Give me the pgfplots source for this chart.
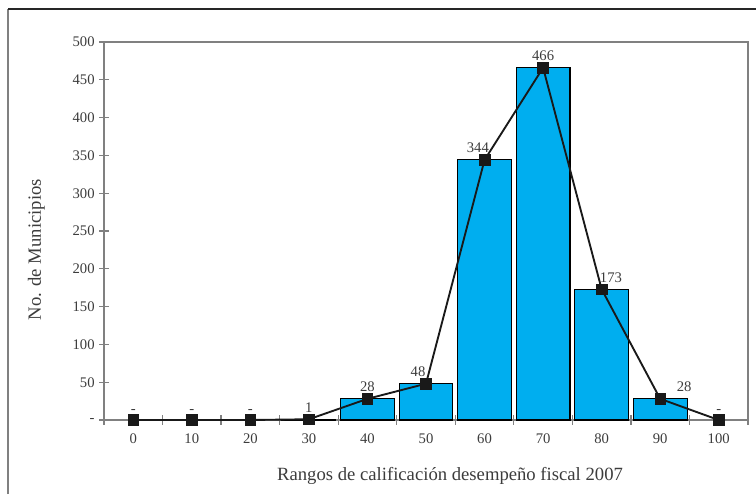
\documentclass[border=0pt]{standalone}
\usepackage{pgfplots}
\usepackage{pgfplotstable}
\pgfplotsset{compat=1.18}
\usepackage{fontspec}
\setmainfont{Liberation Serif}
\definecolor{barblue}{RGB}{0,174,239}
\definecolor{axgray}{RGB}{128,128,128}
\definecolor{txt}{RGB}{60,60,60}

\pgfplotstableread{
x y lab dx
0 0 - 0
1 0 - 0
2 0 - 0
3 1 1 0
4 28 28 0
5 48 48 -6
6 344 344 -5
7 466 466 0
8 173 173 7
9 28 28 18
10 0 - 0
}\linedata

\pgfplotstableread{
x y
3 1
4 28
5 48
6 344
7 466
8 173
9 28
}\bardata

\begin{document}
\begin{tikzpicture}
\useasboundingbox (0,0) rectangle (567pt,370.5pt);
\draw[line width=0.9pt, axgray] (6pt,0) -- (6pt,363.75pt);
\draw[line width=1pt, black!85] (6pt,363.75pt) -- (567pt,363.75pt);
\begin{axis}[
  at={(78pt,55.5pt)}, anchor=south west,
  scale only axis, width=483pt, height=283.5pt,
  xmin=-0.5, xmax=10.5, ymin=0, ymax=500,
  axis line style={axgray, line width=0.9pt},
  every tick/.style={axgray, line width=0.9pt},
  xtick pos=bottom, ytick pos=left,
  tick align=center, major tick length=7pt,
  xtick={0,...,10},
  xticklabels={0,10,20,30,40,50,60,70,80,90,100},
  minor xtick={-0.5,0.5,...,10.5},
  major x tick style={draw=none},
  minor tick length=7pt,
  ytick={0,50,...,500},
  yticklabels={-,50,100,150,200,250,300,350,400,450,500},
  ticklabel style={font=\fontsize{11}{13}\selectfont, text=txt},
  xticklabel style={yshift=-3pt},
  xlabel={Rangos de calificación desempeño fiscal 2007},
  ylabel={No. de Municipios},
  label style={font=\fontsize{14}{16}\selectfont, text=txt},
  xlabel style={yshift=-11pt, xshift=18pt},
  ylabel style={yshift=14pt, xshift=-14pt},
  clip=false,
]
\addplot[ybar, bar width=0.92, bar shift=0pt, fill=barblue, draw=black, line width=0.8pt] table[x=x,y=y] {\bardata};
\addplot[black!90, line width=1.4pt, mark=square*, mark size=4pt,
  mark options={fill=black!90, draw=black!90, line width=0.5pt},
  point meta=explicit symbolic,
  visualization depends on={\thisrow{dx} \as \dx},
  nodes near coords,
  nodes near coords style={font=\fontsize{11}{13}\selectfont, text=txt, xshift=\dx pt, anchor=south, inner sep=2pt, yshift=3pt},
] table[x=x,y=y,meta=lab] {\linedata};
\end{axis}
\end{tikzpicture}
\end{document}
